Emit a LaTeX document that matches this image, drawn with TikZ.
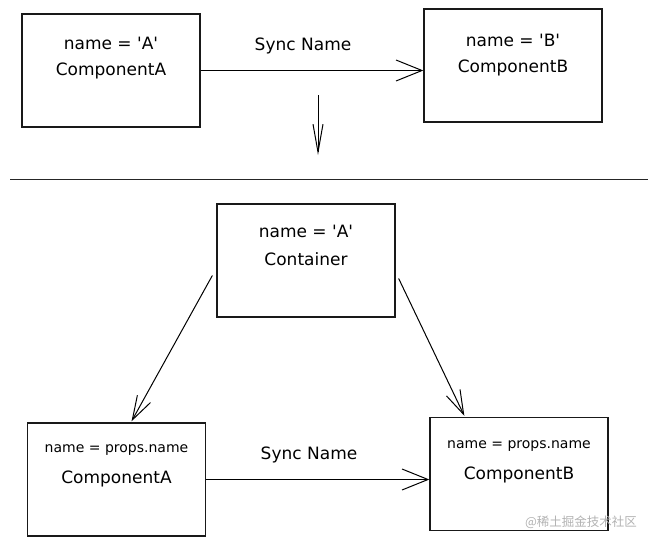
\documentclass[tikz,border=0pt]{standalone}
\usepackage{fontspec}
\setmainfont{DejaVu Sans}
\newfontfamily\cjkfont{Noto Sans CJK SC}
\usetikzlibrary{arrows.meta,calc}

\tikzset{
  box/.style={draw=black!90, line width=1.3pt, minimum width=178pt, minimum height=113pt, inner sep=0pt},
  big/.style={font=\fontsize{17}{20}\selectfont},
  small/.style={font=\fontsize{14}{16}\selectfont},
  sync/.style={line width=1pt, -{Straight Barb[length=26pt,width=21pt,line width=1pt]}},
  feed/.style={line width=1pt, -{Straight Barb[length=24pt,width=15pt,line width=1pt]}},
}

\begin{document}
\begin{tikzpicture}[x=1pt, y=-1pt]
        \useasboundingbox (0,0) rectangle (659,546);
        % top boxes
        \node [box] (topA) at (111,70.5) {};
        \node [box] (topB) at (513,65.5) {};
        \node [big] (topAname) at (111,43) {name = \textquotesingle A\textquotesingle};
        \node [big] (topAcomp) at (111,71) {ComponentA};
        \node [big] (topBname) at (513,40) {name = \textquotesingle B\textquotesingle};
        \node [big] (topBcomp) at (513,68) {ComponentB};
        % top sync
        \draw [sync] (topA.east) -- (topA.east -| topB.west);
        \node [big] (topsync) at (303,46) {Sync Name};
        % down arrow
        \coordinate (downfrom) at (318,95);
        \coordinate (downto) at (318,155);
        \draw [line width=1pt, -{Straight Barb[length=28pt,width=10pt,line width=1pt]}] (downfrom) -- (downto);
        % divider
        \coordinate (divleft) at (10,179);
        \coordinate (divright) at (648,179);
        \draw [line width=1pt, black!85] (divleft) -- (divright);
        % container
        \node [box] (cont) at (306,260.5) {};
        \node [big] (contname) at (306,231) {name = \textquotesingle A\textquotesingle};
        \node [big] (contcomp) at (306,259) {Container};
        % bottom boxes
        \node [box] (botA) at (116.5,479.5) {};
        \node [box] (botB) at (519,474) {};
        \node [small] (botAname) at (116.5,450) {name = props.name};
        \node [big] (botAcomp) at (116.5,479) {ComponentA};
        \node [small] (botBname) at (519,446) {name = props.name};
        \node [big] (botBcomp) at (519,475) {ComponentB};
        % props down
        \draw [feed] ($(cont.west)+(-4,15)$) -- ($(botA.north)+(15,-1)$);
        \draw [feed] ($(cont.east)+(3,18)$) -- ($(botB.north west)+(35,-1)$);
        % bottom sync
        \draw [sync] (botA.east) -- (botA.east -| botB.west);
        \node [big] (botsync) at (309,455) {Sync Name};
        % mark
        \node [text=black!30, font=\cjkfont\fontsize{12.5}{14}\selectfont] (mark) at (581,522) {@稀土掘金技术社区};
\end{tikzpicture}
\end{document}
